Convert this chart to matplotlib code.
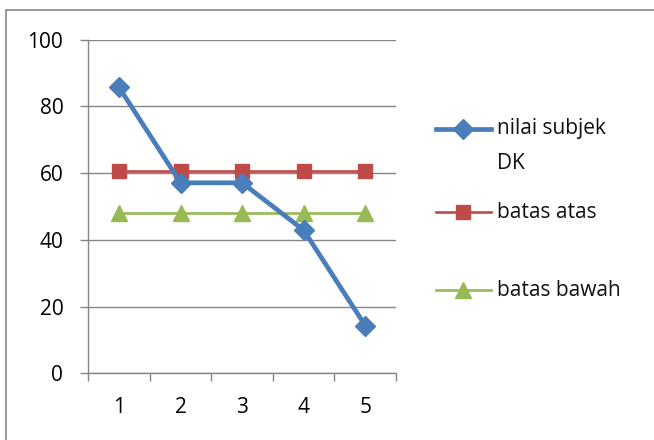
import matplotlib.pyplot as plt
from matplotlib.lines import Line2D
from matplotlib.patches import Rectangle

# data
kategori = ['1', '2', '3', '4', '5']
nilai_subjek = [85.7, 57.1, 57.1, 42.9, 14.3]
batas_atas = [60.5, 60.5, 60.5, 60.5, 60.5]
batas_bawah = [47.9, 47.9, 47.9, 47.9, 47.9]

plt.rcParams['font.family'] = ['Open Sans', 'DejaVu Sans']
biru, merah, hijau = '#4A7EBB', '#BE4B48', '#98B954'
abu = '#868686'

fig = plt.figure(figsize=(6.54, 4.4), dpi=100)
ax = fig.add_axes([0.135, 0.1516, 0.4705, 0.7582])

x = range(len(kategori))
ax.plot(x, nilai_subjek, color=biru, lw=3.4, marker='D', ms=10.5, zorder=3)
ax.plot(x, batas_atas, color=merah, lw=1.9, marker='s', ms=10.5, zorder=2)
ax.plot(x, batas_bawah, color=hijau, lw=1.9, marker='^', ms=11.5, zorder=2)

ax.set_xlim(-0.5, len(kategori) - 0.5)
ax.set_ylim(0, 100)
ax.set_yticks(range(0, 101, 20))
ax.set_xticks(list(x))
ax.set_xticklabels(kategori)
ax.set_xticks([i - 0.5 for i in range(len(kategori) + 1)], minor=True)
ax.tick_params(axis='x', which='major', length=0, pad=17, labelsize=15)
ax.tick_params(axis='x', which='minor', length=6, width=1, color=abu)
ax.tick_params(axis='y', length=6, width=1, color=abu, pad=12, labelsize=15)
ax.grid(axis='y', color=abu, lw=1)
ax.set_axisbelow(True)
for s in ['top', 'right']:
    ax.spines[s].set_visible(False)
for s in ['left', 'bottom']:
    ax.spines[s].set_color(abu)
    ax.spines[s].set_linewidth(1)

# legend manual (posisi handle, posisi teks dalam piksel)
leg = [('nilai subjek\nDK', biru, 'D', 3.4, 10, 129, 146),
       ('batas atas', merah, 's', 1.9, 10, 212, 212),
       ('batas bawah', hijau, '^', 1.9, 11, 290, 290)]
for teks, c, m, lw, ms, yh, yt in leg:
    yf = 1 - yh / 440
    fig.add_artist(Line2D([436 / 654, 491 / 654], [yf, yf], color=c, lw=lw))
    fig.add_artist(Line2D([463 / 654], [yf], color=c, marker=m, ms=ms, lw=0))
    fig.text(497 / 654, 1 - yt / 440, teks, fontsize=15, color='#111111',
             va='center', ha='left', linespacing=1.9)

# bingkai
fig.add_artist(Rectangle((6 / 654, -0.1), 1.2, 1 - 10 / 440 + 0.1,
                         fill=False, edgecolor=abu, lw=1.2))

plt.savefig('out.png', dpi=100)
